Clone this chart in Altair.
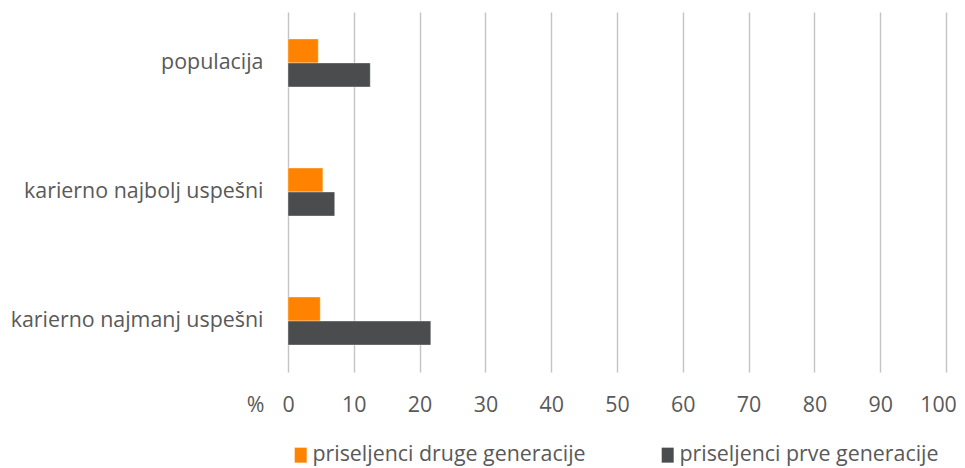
import altair as alt
import pandas as pd

categories = ["populacija", "karierno najbolj uspešni", "karierno najmanj uspešni"]
series = ["priseljenci druge generacije", "priseljenci prve generacije"]
druge = [4.6, 5.3, 4.9]
prve = [12.5, 7.1, 21.7]
colors = ["#FF8300", "#4B4C4E"]
ticks = [0, 10, 20, 30, 40, 50, 60, 70, 80, 90, 100]

rows = []
for c, a, b in zip(categories, druge, prve):
    rows.append({"kategorija": c, "serija": series[0], "vrednost": a})
    rows.append({"kategorija": c, "serija": series[1], "vrednost": b})
df = pd.DataFrame(rows)

font = "Open Sans"
txt = "#595959"
fs = 21.4

chart = alt.Chart(df).mark_bar(
    stroke="#ffffff", strokeWidth=0.8, strokeOpacity=0.45
).encode(
    x=alt.X("vrednost:Q",
            scale=alt.Scale(domain=[0, 100], nice=False),
            axis=alt.Axis(values=ticks, title="%", titleX=-33, titleY=33,
                          titleAlign="center", titleBaseline="middle",
                          titleFontWeight="normal", titleFont=font,
                          titleFontSize=fs, titleColor=txt,
                          labelFont=font, labelFontSize=fs, labelColor=txt,
                          labelBaseline="middle",
                          labelOffset={"condition": {"test": "datum.value == 100", "value": -8}, "value": 0},
                          labelPadding=33, ticks=False, domain=False,
                          grid=True, gridColor="#c4c4c4", gridWidth=1.4,
                          labelFlush=False)),
    y=alt.Y("kategorija:N", sort=categories,
            scale=alt.Scale(paddingInner=0.628, paddingOuter=0.209),
            axis=alt.Axis(title=None, labelFont=font, labelFontSize=fs,
                          labelColor=txt, labelPadding=25, ticks=False,
                          domain=False, labelLimit=400)),
    yOffset=alt.YOffset("serija:N", sort=series,
                        scale=alt.Scale(paddingInner=0, paddingOuter=0)),
    color=alt.Color("serija:N",
                    scale=alt.Scale(domain=series, range=colors),
                    legend=alt.Legend(title=None, orient="none",
                                      direction="horizontal",
                                      legendX=2, legendY=432,
                                      symbolType="M-0.8,-1H0.8V1H-0.8Z",
                                      symbolSize=225, symbolStrokeWidth=0,
                                      labelFont=font, labelFontSize=fs,
                                      labelColor=txt, labelOffset=1,
                                      columnPadding=71, labelLimit=400)),
).properties(
    width=658, height=360,
    autosize=alt.AutoSizeParams(type="none"),
    padding={"left": 280, "top": 4, "right": 11, "bottom": 96},
).configure_view(stroke=None)

chart.save("out.html", embed_options={"renderer": "svg", "actions": False})
